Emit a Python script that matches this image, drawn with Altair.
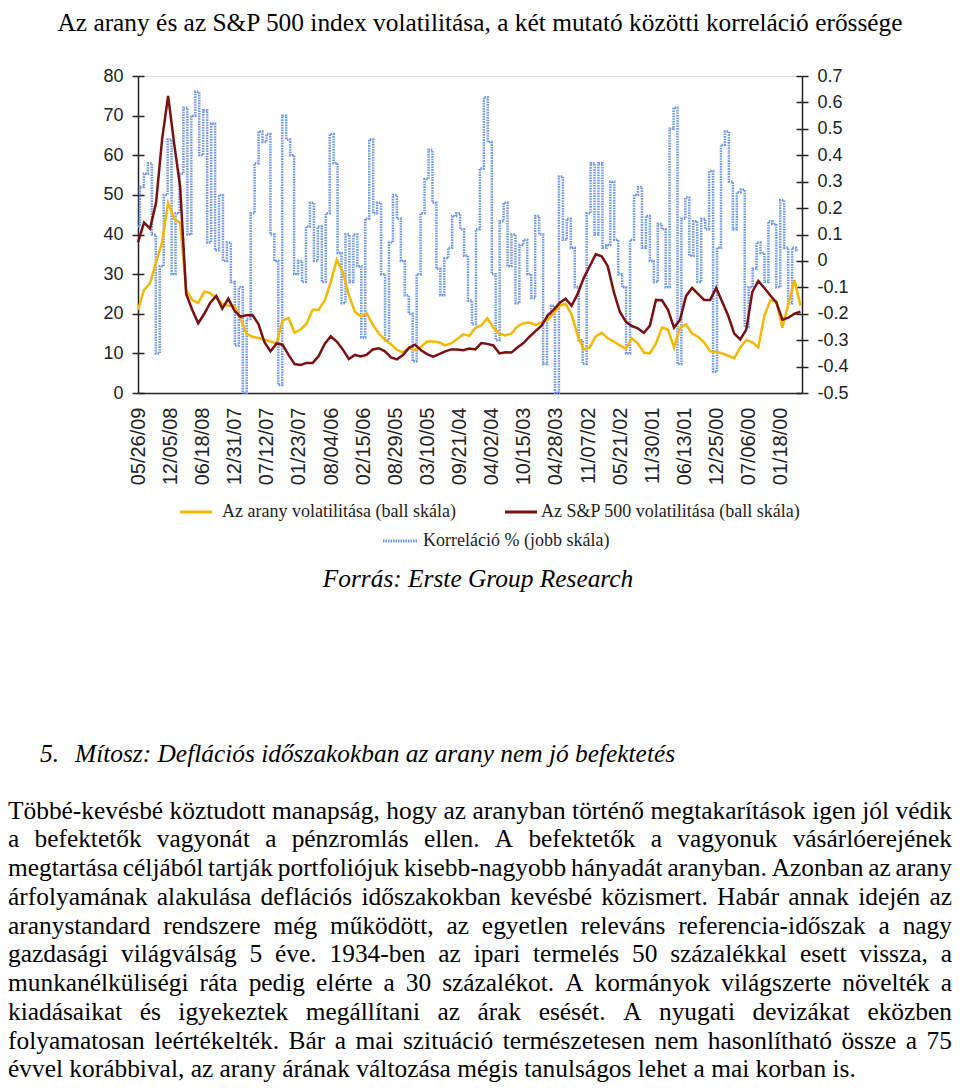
import struct, glob
import pandas as pd
import altair as alt

# ---------------- texts ----------------
TITLE = "Az arany és az S&P 500 index volatilitása, a két mutató közötti korreláció erőssége"
SOURCE = "Forrás: Erste Group Research"
HEAD_NUM = "5."
HEAD_TEXT = "Mítosz: Deflációs időszakokban az arany nem jó befektetés"
PARAGRAPH = [
    "Többé-kevésbé köztudott manapság, hogy az aranyban történő megtakarítások igen jól védik",
    "a befektetők vagyonát a pénzromlás ellen. A befektetők a vagyonuk vásárlóerejének",
    "megtartása céljából tartják portfoliójuk kisebb-nagyobb hányadát aranyban. Azonban az arany",
    "árfolyamának alakulása deflációs időszakokban kevésbé közismert. Habár annak idején az",
    "aranystandard rendszere még működött, az egyetlen releváns referencia-időszak a nagy",
    "gazdasági világválság 5 éve. 1934-ben az ipari termelés 50 százalékkal esett vissza, a",
    "munkanélküliségi ráta pedig elérte a 30 százalékot. A kormányok világszerte növelték a",
    "kiadásaikat és igyekeztek megállítani az árak esését. A nyugati devizákat eközben",
    "folyamatosan leértékelték. Bár a mai szituáció természetesen nem hasonlítható össze a 75",
    "évvel korábbival, az arany árának változása mégis tanulságos lehet a mai korban is.",
]
LEGEND_GOLD = "Az arany volatilitása (ball skála)"
LEGEND_RED = "Az S&P 500 volatilitása (ball skála)"
LEGEND_BLUE = "Korreláció % (jobb skála)"

# ---------------- axis labels ----------------
DATE_LABELS = ["05/26/09", "12/05/08", "06/18/08", "12/31/07", "07/12/07", "01/23/07",
               "08/04/06", "02/15/06", "08/29/05", "03/10/05", "09/21/04", "04/02/04",
               "10/15/03", "04/28/03", "11/07/02", "05/21/02", "11/30/01", "06/13/01",
               "12/25/00", "07/06/00", "01/18/00"]
LEFT_TICKS = [0, 10, 20, 30, 40, 50, 60, 70, 80]
RIGHT_TICKS = [-0.5, -0.4, -0.3, -0.2, -0.1, 0.0, 0.1, 0.2, 0.3, 0.4, 0.5, 0.6, 0.7]
FIRST_DATE = "1999-09-28"
LAST_DATE = "2009-05-26"

# ---------------- series (newest first) ----------------
GOLD_VOL = [21, 26, 27.7, 33, 38, 48, 44, 42.9, 26, 23.5, 22.7, 25.6, 25.2, 24, 22.5, 22,
            22, 19, 15, 14.2, 13.9, 13.5, 13, 12.5, 18.3, 18.9, 15.2, 16, 17.5, 21, 21, 23.3,
            28, 33.6, 30.5, 24.8, 20.5, 19.3, 20.1, 17.2, 15, 13.4, 12.3, 10.9, 10.2, 11.4,
            10.8, 11.6, 13, 13, 12.8, 12, 12.5, 13.6, 14.8, 14.4, 16.4, 17.1, 18.9, 16.5, 15,
            14.5, 15, 16.8, 17.6, 17.8, 17.2, 17.8, 18.5, 20, 22, 22.5, 19.8, 14.5, 11, 11.5,
            14.3, 15.2, 13.8, 13, 12, 11.2, 13.8, 12.5, 10.2, 10, 12.5, 16.5, 16, 11.5, 16.5,
            17.3, 15, 14.2, 12.8, 10.5, 10.4, 10, 9.4, 8.8, 11.5, 13.4, 12.8, 11.5, 19.5,
            23.4, 23.2, 16.5, 22.5, 28.5, 22]
SP_VOL = [38, 43, 41.5, 48, 64, 75, 63, 52, 25, 21, 17.6, 20, 22.8, 24.5, 21.3, 23.8, 20.8,
          19.3, 19.6, 19.7, 17.4, 12.8, 10.5, 12.5, 12.2, 9.6, 7.3, 7.1, 7.6, 7.6, 9.3, 12.4,
          14.3, 13, 11, 8.6, 9.6, 9.2, 9.7, 11, 11.3, 10.5, 9, 8.5, 9.6, 11.4, 12.2, 10.8,
          9.8, 9.2, 9.8, 10.5, 11, 11, 10.8, 11.2, 11, 12.6, 12.4, 12, 10, 10.3, 10.2, 11.5,
          12.6, 14.2, 15.6, 17, 19.5, 21, 22.7, 23.8, 22, 25, 29, 32, 35, 34.5, 32, 25.5,
          20.5, 18, 16.9, 16.3, 15.2, 17, 23.5, 23.4, 21, 16.5, 18.5, 24.5, 26.5, 25, 23.5,
          23.5, 26.5, 23, 19.5, 15, 13.5, 16, 25.5, 28.3, 26.5, 24.6, 22.8, 18.5, 19, 20,
          20.5]
CORREL = [0.13, 0.28, 0.33, 0.37, 0.10, -0.35, -0.02, 0.25, 0.46, -0.05, 0.18, 0.33, 0.58,
          0.10, 0.55, 0.64, 0.40, 0.57, 0.07, 0.52, 0.04, 0.25, 0.00, 0.07, -0.08, -0.32,
          -0.10, -0.50, -0.22, 0.18, 0.37, 0.49, 0.45, 0.48, 0.10, 0.00, -0.47, 0.55, 0.46,
          0.40, -0.05, 0.00, -0.08, 0.13, 0.22, 0.00, 0.13, -0.08, 0.18, 0.48, 0.37, 0.03,
          -0.16, 0.10, -0.08, 0.10, -0.02, -0.29, 0.16, 0.46, 0.18, 0.22, -0.05, -0.30, 0.07,
          0.25, 0.16, 0.00, -0.13, -0.20, -0.38, -0.05, 0.18, 0.31, 0.42, 0.22, -0.03, -0.13,
          0.01, 0.05, 0.17, 0.18, 0.12, 0.02, -0.15, -0.24, 0.12, 0.35, 0.62, 0.45, -0.05,
          -0.30, 0.15, 0.22, -0.02, 0.10, -0.16, 0.06, 0.08, -0.05, -0.14, 0.17, 0.10, -0.39,
          -0.20, -0.17, -0.50, 0.32, 0.08, 0.16, 0.05, -0.10, -0.30, -0.39, 0.18, 0.37, 0.10,
          0.37, 0.05, 0.06, 0.30, 0.08, -0.05, -0.10, -0.35, 0.08, 0.25, 0.28, 0.05, 0.17,
          0.00, -0.08, 0.14, 0.12, -0.10, 0.50, 0.58, -0.39, 0.16, 0.24, 0.02, 0.15, -0.08,
          0.16, 0.12, 0.34, -0.42, 0.05, 0.44, 0.49, 0.30, 0.12, 0.26, 0.27, -0.25, -0.10,
          -0.03, 0.07, 0.03, -0.08, 0.15, 0.14, -0.10, 0.23, 0.05, -0.16, 0.05, 0.04]

GOLD = "#F5B800"
RED = "#7A1012"
BLUE = "#6E97E8"

# ---------------- data frames ----------------
vol_dates = pd.date_range(end=LAST_DATE, periods=len(GOLD_VOL), freq="32D")[::-1]
cor_dates = pd.date_range(end=LAST_DATE, periods=len(CORREL), freq="21D")[::-1]
df_vol = pd.DataFrame({"date": [d.strftime("%Y-%m-%d") for d in vol_dates],
                       "arany": GOLD_VOL, "sp": SP_VOL})
df_cor = pd.DataFrame({"date": [d.strftime("%Y-%m-%d") for d in cor_dates], "kor": CORREL})


def ms(ts):
    return int(pd.Timestamp(ts, tz="UTC").timestamp() * 1000)


tick_ms = [ms(pd.to_datetime(s, format="%m/%d/%y")) for s in DATE_LABELS]
x_scale = alt.Scale(type="utc", domain=[ms(FIRST_DATE), ms(LAST_DATE)], reverse=True)

W, H = 664, 317
PAD_L, PAD_T = 130, 68
TOTAL_W, TOTAL_H = 944, 1074

AX_FONT = "Liberation Sans"
SERIF = "Liberation Serif"

x_axis = alt.Axis(values=tick_ms, labelExpr="utcFormat(datum.value, '%m/%d/%y')",
                  labelAngle=-90, labelFont=AX_FONT, labelFontSize=20, labelColor="#222",
                  ticks=False, labelPadding=14, domainColor="#222", domainWidth=1.5,
                  grid=False, title=None, labelOverlap=False, labelFlush=False,
                  labelBound=False)
y_left = alt.Scale(domain=[0, 80], nice=False, zero=False)
y_right = alt.Scale(domain=[-0.5, 0.7], nice=False, zero=False)

left_axis = alt.Axis(values=LEFT_TICKS, labelFont=AX_FONT, labelFontSize=18,
                     labelColor="#222", tickColor="#222", tickSize=6, tickWidth=1.5,
                     domainColor="#222", domainWidth=1.5, labelPadding=9, grid=False,
                     title=None)
left_inner = alt.Axis(values=LEFT_TICKS, labels=False, domain=False, tickColor="#222",
                      tickSize=6, tickWidth=1.5, offset=-6, grid=False, title=None)
right_axis = alt.Axis(values=RIGHT_TICKS, orient="right",
                      labelExpr="datum.value == 0 ? '0' : (datum.value < 0 ? '-' : '') + format(abs(datum.value), '.1f')",
                      labelFont=AX_FONT, labelFontSize=18, labelColor="#222",
                      tickColor="#222", tickSize=6, tickWidth=1.5, domainColor="#222",
                      domainWidth=1.5, labelPadding=9, grid=False, title=None)
right_inner = alt.Axis(values=RIGHT_TICKS, orient="right", labels=False, domain=False,
                       tickColor="#222", tickSize=6, tickWidth=1.5, offset=-6, grid=False,
                       title=None)

blue = alt.Chart(df_cor).mark_line(color=BLUE, strokeWidth=2.5, strokeDash=[1.6, 1.0],
                                   interpolate="step").encode(
    x=alt.X("date:T", scale=x_scale, axis=None),
    y=alt.Y("kor:Q", scale=y_right, axis=right_axis))
blue_ticks = alt.Chart(df_cor).mark_line(opacity=0).encode(
    x=alt.X("date:T", scale=x_scale, axis=None),
    y=alt.Y("kor:Q", scale=y_right, axis=right_inner))
gold = alt.Chart(df_vol).mark_line(color=GOLD, strokeWidth=2.5).encode(
    x=alt.X("date:T", scale=x_scale, axis=x_axis),
    y=alt.Y("arany:Q", scale=y_left, axis=left_axis))
red = alt.Chart(df_vol).mark_line(color=RED, strokeWidth=2.5).encode(
    x=alt.X("date:T", scale=x_scale, axis=None),
    y=alt.Y("sp:Q", scale=y_left, axis=left_inner))

# ---------------- text measurement (for justified paragraph) ----------------
def make_measure():
    paths = glob.glob("/usr/share/fonts/**/LiberationSerif-Regular.ttf", recursive=True)
    if not paths:
        return lambda s, size: size * sum(0.25 if c == " " else 0.46 for c in s)
    data = open(paths[0], "rb").read()
    ntab = struct.unpack(">H", data[4:6])[0]
    tabs = {}
    for i in range(ntab):
        tag, _, off, ln = struct.unpack(">4sIII", data[12 + 16 * i:28 + 16 * i])
        tabs[tag.decode("latin1")] = off
    upem = struct.unpack(">H", data[tabs["head"] + 18:tabs["head"] + 20])[0]
    nhm = struct.unpack(">H", data[tabs["hhea"] + 34:tabs["hhea"] + 36])[0]
    ho = tabs["hmtx"]
    adv = [struct.unpack(">H", data[ho + 4 * i:ho + 4 * i + 2])[0] for i in range(nhm)]
    co = tabs["cmap"]
    nsub = struct.unpack(">H", data[co + 2:co + 4])[0]
    sub = None
    for i in range(nsub):
        pid, eid, so = struct.unpack(">HHI", data[co + 4 + 8 * i:co + 12 + 8 * i])
        fmt = struct.unpack(">H", data[co + so:co + so + 2])[0]
        if pid == 3 and eid == 1 and fmt == 4:
            sub = co + so
    seg2 = struct.unpack(">H", data[sub + 6:sub + 8])[0]
    seg = seg2 // 2
    ends = struct.unpack(">%dH" % seg, data[sub + 14:sub + 14 + seg2])
    starts = struct.unpack(">%dH" % seg, data[sub + 16 + seg2:sub + 16 + 2 * seg2])
    deltas = struct.unpack(">%dh" % seg, data[sub + 16 + 2 * seg2:sub + 16 + 3 * seg2])
    rpos = sub + 16 + 3 * seg2
    roffs = struct.unpack(">%dH" % seg, data[rpos:rpos + seg2])

    def gid(ch):
        c = ord(ch)
        for k in range(seg):
            if ends[k] >= c:
                if starts[k] > c:
                    return 0
                if roffs[k] == 0:
                    return (c + deltas[k]) & 0xFFFF
                a = rpos + 2 * k + roffs[k] + 2 * (c - starts[k])
                g = struct.unpack(">H", data[a:a + 2])[0]
                return (g + deltas[k]) & 0xFFFF if g else 0
        return 0

    def measure(s, size):
        tot = 0
        for ch in s:
            g = gid(ch)
            tot += adv[g] if g < nhm else adv[-1]
        return tot * size / upem
    return measure


measure = make_measure()
FS = 25.4
P_LEFT, P_RIGHT = 8 - 138, 952 - 138
P_BASE, P_STEP = 818.5 - 76, 28.75
rows = []
for k, line in enumerate(PARAGRAPH):
    words = line.split(" ")
    widths = [measure(w, FS) for w in words]
    if k < len(PARAGRAPH) - 1 and len(words) > 1:
        gap = (P_RIGHT - P_LEFT - sum(widths)) / (len(words) - 1)
    else:
        gap = measure(" ", FS)
    x = P_LEFT
    for w, wd in zip(words, widths):
        rows.append({"x": x, "y": P_BASE + k * P_STEP, "t": w})
        x += wd + gap
df_words = pd.DataFrame(rows)

para = alt.Chart(df_words).mark_text(align="left", baseline="alphabetic", font=SERIF,
                                     fontSize=FS, color="#000").encode(
    x=alt.X("x:Q", scale=None, axis=None), y=alt.Y("y:Q", scale=None, axis=None), text="t:N")

one = pd.DataFrame({"a": [0]})


def txt(s, x, y, size=FS, align="left", style="normal", baseline="alphabetic", color="#000"):
    return alt.Chart(one).mark_text(text=s, align=align, baseline=baseline, font=SERIF,
                                    fontSize=size, fontStyle=style, color=color).encode(
        x=alt.value(x), y=alt.value(y))


title = txt(TITLE, 342, 31 - 76, align="center")
source = txt(SOURCE, 340, 587 - 76, align="center", style="italic")
h_num = txt(HEAD_NUM, 40 - 138, 762 - 76, style="italic")
h_txt = txt(HEAD_TEXT, 75 - 138, 762 - 76, style="italic")

LEG_FS = 18
leg_gold_line = alt.Chart(one).mark_rule(color=GOLD, strokeWidth=3).encode(
    x=alt.value(180 - 138), x2=alt.value(212 - 138), y=alt.value(512 - 76))
leg_red_line = alt.Chart(one).mark_rule(color=RED, strokeWidth=3).encode(
    x=alt.value(505 - 138), x2=alt.value(537 - 138), y=alt.value(512 - 76))
leg_blue_line = alt.Chart(one).mark_rule(color=BLUE, strokeWidth=3, strokeDash=[1.5, 1]).encode(
    x=alt.value(383 - 138), x2=alt.value(417 - 138), y=alt.value(541 - 76))
leg_gold = txt(LEGEND_GOLD, 222 - 138, 512 - 76, size=LEG_FS, baseline="middle", color="#222")
leg_red = txt(LEGEND_RED, 541 - 138, 512 - 76, size=LEG_FS, baseline="middle", color="#222")
leg_blue = txt(LEGEND_BLUE, 423 - 138, 541 - 76, size=LEG_FS, baseline="middle", color="#222")

chart = alt.layer(
    blue, blue_ticks, gold, red,
    leg_gold_line, leg_red_line, leg_blue_line, leg_gold, leg_red, leg_blue,
    title, source, h_num, h_txt, para,
).resolve_scale(x="independent", y="independent").properties(
    width=W, height=H,
    autosize=alt.AutoSizeParams(type="none"),
    padding={"left": PAD_L, "top": PAD_T, "right": TOTAL_W - PAD_L - W,
             "bottom": TOTAL_H - PAD_T - H},
).configure_view(stroke=None).configure(background="white")

chart.save("out.html", embed_options={"renderer": "svg", "actions": False})
